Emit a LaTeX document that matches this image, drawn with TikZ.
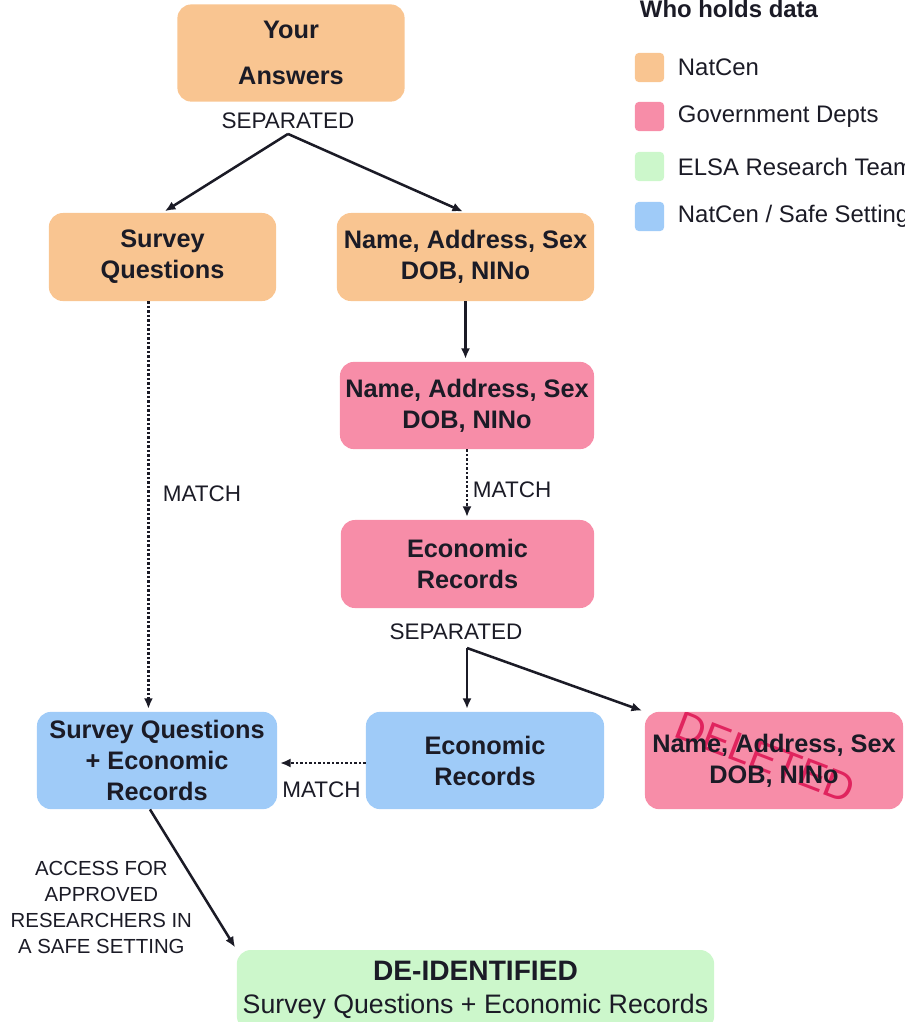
\documentclass[tikz,border=0pt]{standalone}
\usepackage{fontspec}
\setmainfont{Liberation Sans}
\usetikzlibrary{arrows.meta}
\definecolor{natcenBg}{HTML}{F9C591}
\definecolor{govBg}{HTML}{F78DA8}
\definecolor{elsaBg}{HTML}{CCF7CB}
\definecolor{safeBg}{HTML}{9FCBF8}
\definecolor{ink}{HTML}{1B1B26}
\definecolor{stampRed}{HTML}{E0245E}

\begin{document}
\begin{tikzpicture}[x=0.025cm,y=-0.025cm,>=Latex,text=ink,
  box/.style={rounded corners=3.5mm,align=center,inner sep=0pt,font=\bfseries\fontsize{18}{22}\selectfont},
  flow/.style={-{Latex[length=7.5pt,width=6.5pt]},line width=1.8pt,draw=ink,shorten >=2pt},
  dots/.style={flow,dash pattern=on 1.6pt off 1.6pt},
  lbl/.style={font=\fontsize{16}{19}\selectfont},
  key/.style={rounded corners=1mm,minimum size=0.73cm,inner sep=0pt},
  keytext/.style={anchor=west,font=\fontsize{17}{20}\selectfont},
  stampmark/.style={font=\fontsize{29}{29}\selectfont,text=stampRed,rotate=-21}]
  \useasboundingbox (0,0) rectangle (905,1022);

  \node[box,fill=natcenBg,minimum width=5.68cm,minimum height=2.43cm] (answers) at (291,53) {Your\\[11pt]Answers};
  \node[box,fill=natcenBg,minimum width=5.68cm,minimum height=2.2cm] (survey) at (162.5,257) {Survey\\Questions};
  \node[box,fill=natcenBg,minimum width=6.43cm,minimum height=2.2cm] (ident) at (465.5,257) {Name, Address, Sex\\DOB, NINo};
  \node[box,fill=govBg,minimum width=6.35cm,minimum height=2.18cm] (identGov) at (467,405.5) {Name, Address, Sex\\DOB, NINo};
  \node[box,fill=govBg,minimum width=6.33cm,minimum height=2.2cm] (econ) at (467.5,564) {Economic\\Records};
  \node[box,fill=safeBg,minimum width=6.0cm,minimum height=2.43cm] (linked) at (157,760.5) {Survey Questions\\+ Economic\\Records};
  \node[box,fill=safeBg,minimum width=5.95cm,minimum height=2.43cm] (econSafe) at (485,760.5) {Economic\\Records};
  \node[box,fill=govBg,minimum width=6.45cm,minimum height=2.43cm,
    path picture={\node[stampmark] at ([xshift=-0.22cm,yshift=0.08cm]path picture bounding box.center) {DELETED};}]
    (deleted) at (774,760.5) {Name, Address, Sex\\DOB, NINo};
  \node[box,fill=elsaBg,minimum width=11.93cm,minimum height=2cm] (deid) at (475.5,990)
    {{\fontsize{20}{24}\selectfont DE-IDENTIFIED}\\[1pt]{\mdseries\fontsize{19}{22}\selectfont Survey Questions + Economic Records}};

  \node[lbl] (sep1) at (288,121) {SEPARATED};
  \draw[flow] (sep1.south) -- (survey.north);
  \draw[flow] (sep1.south) -- (ident.north);
  \draw[flow] (ident.south) -- (ident.south |- identGov.north);
  \draw[dots] (identGov.south) -- node[lbl,right,pos=0.57] {MATCH} (identGov.south |- econ.north);

  \node[lbl] (sep2) at (456,632) {SEPARATED};
  \coordinate (fork2) at (467,648);
  \draw[flow] (fork2) -- (fork2 |- econSafe.north);
  \draw[flow] (fork2) -- (deleted.north west);

  \draw[dots] ([xshift=-10pt]survey.south) -- node[lbl,right=6pt,pos=0.47] {MATCH} ([xshift=-10pt]survey.south |- linked.north);
  \draw[dots] (econSafe.west |- 0,763) -- node[lbl,below=9pt] {MATCH} (linked.east |- 0,763);
  \draw[flow] ([xshift=-5pt]linked.south) -- node[pos=0.7,left=9pt,align=center,font=\fontsize{14.5}{18.5}\selectfont]
    {ACCESS FOR\\APPROVED\\RESEARCHERS IN\\A SAFE SETTING} (deid.north west);

  \node[anchor=west,font=\bfseries\fontsize{17}{20}\selectfont] (keyTitle) at (635,9) {Who holds data};
  \node[key,fill=natcenBg] (keyNat) at (649.5,67.5) {};
  \node[keytext] (keyNatText) at (673,67.5) {NatCen};
  \node[key,fill=govBg] (keyGov) at (649.5,116.5) {};
  \node[keytext] (keyGovText) at (673,116.5) {Government Depts};
  \node[key,fill=elsaBg] (keyElsa) at (649.5,166.5) {};
  \node[keytext] (keyElsaText) at (673,166.5) {ELSA Research Team};
  \node[key,fill=safeBg] (keySafe) at (649.5,216.5) {};
  \node[keytext] (keySafeText) at (673,216.5) {NatCen / Safe Setting};
\end{tikzpicture}
\end{document}
